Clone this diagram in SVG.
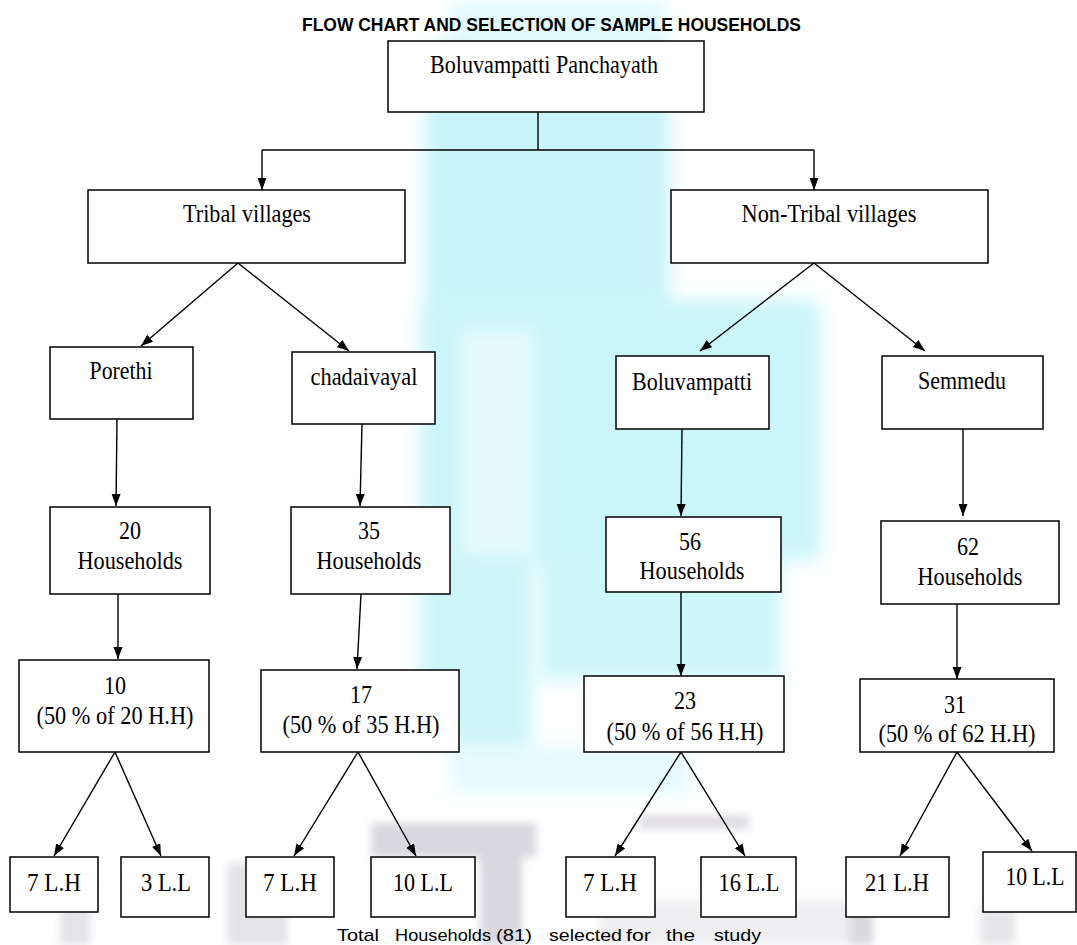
<svg xmlns="http://www.w3.org/2000/svg" width="1077" height="945" viewBox="0 0 1077 945">
<style>
.box{fill:#fff;stroke:#000;stroke-width:1.5}
.lbl{font-family:"Liberation Serif","Times New Roman",serif;font-size:24.5px;fill:#000;text-anchor:middle}
.title{font-family:"Liberation Sans",Arial,sans-serif;font-size:18.5px;font-weight:bold;fill:#000}
.foot{font-family:"Liberation Sans",Arial,sans-serif;font-size:17px;fill:#000}
.con{fill:none;stroke:#000;stroke-width:1.4}
</style>
<defs>
<marker id="ah" markerUnits="userSpaceOnUse" markerWidth="13" markerHeight="10" refX="12" refY="4.5" orient="auto">
<path d="M0,0 L12,4.5 L0,9 z" fill="#000"/>
</marker>
<filter id="blur" x="-20%" y="-20%" width="140%" height="140%"><feGaussianBlur stdDeviation="9"/></filter>
<filter id="blur2" x="-20%" y="-20%" width="140%" height="140%"><feGaussianBlur stdDeviation="4"/></filter>
</defs>
<rect width="1077" height="945" fill="#fff"/>
<g id="watermark">
<g filter="url(#blur)">
<rect x="450" y="0" width="215" height="50" fill="#e2fafc"/>
<rect x="425" y="45" width="245" height="260" fill="#c9f4f9"/>
<rect x="420" y="300" width="400" height="260" fill="#cbf6f9"/>
<rect x="460" y="330" width="75" height="240" fill="#e4fafc"/>
<rect x="420" y="555" width="112" height="190" fill="#cdf6f9"/>
<rect x="540" y="555" width="240" height="125" fill="#cdf7f9"/>
<rect x="450" y="745" width="240" height="50" fill="#e6fbfc"/>
</g>
<g filter="url(#blur2)" fill="#d9d8de">
<rect x="371" y="823" width="165" height="34"/>
<rect x="639" y="815" width="110" height="14" fill="#dedce2"/>
<rect x="227" y="863" width="60" height="82" fill="#e3e3e8"/>
<rect x="480" y="855" width="42" height="90"/>
<rect x="845" y="910" width="28" height="35"/>
<rect x="60" y="900" width="30" height="45" fill="#e3e3e8"/>
<rect x="980" y="905" width="35" height="40" fill="#e6e6ea"/>
<rect x="600" y="900" width="250" height="45" fill="#efeff2"/>
</g>
</g>
<text class="title" x="302" y="30.5" textLength="499" lengthAdjust="spacingAndGlyphs">FLOW CHART AND SELECTION OF SAMPLE HOUSEHOLDS</text>
<g id="connectors">
<polyline class="con" points="538,112 538,150"/>
<polyline class="con" points="262,150 814,150"/>
<line class="con" x1="262" y1="150" x2="262" y2="190" marker-end="url(#ah)"/>
<line class="con" x1="814" y1="150" x2="814" y2="190" marker-end="url(#ah)"/>
<line class="con" x1="238" y1="263" x2="141" y2="346" marker-end="url(#ah)"/>
<line class="con" x1="238" y1="263" x2="349" y2="351" marker-end="url(#ah)"/>
<line class="con" x1="814" y1="263" x2="700" y2="351" marker-end="url(#ah)"/>
<line class="con" x1="814" y1="263" x2="925" y2="351" marker-end="url(#ah)"/>
<line class="con" x1="117" y1="419" x2="116" y2="506" marker-end="url(#ah)"/>
<line class="con" x1="362" y1="424" x2="360" y2="506" marker-end="url(#ah)"/>
<line class="con" x1="682" y1="429" x2="681" y2="516" marker-end="url(#ah)"/>
<line class="con" x1="963" y1="429" x2="963" y2="516" marker-end="url(#ah)"/>
<line class="con" x1="118" y1="594" x2="118" y2="659" marker-end="url(#ah)"/>
<line class="con" x1="361" y1="594" x2="357" y2="669" marker-end="url(#ah)"/>
<line class="con" x1="681" y1="592" x2="681" y2="676" marker-end="url(#ah)"/>
<line class="con" x1="957" y1="604" x2="957" y2="679" marker-end="url(#ah)"/>
<line class="con" x1="115" y1="752" x2="54" y2="856" marker-end="url(#ah)"/>
<line class="con" x1="115" y1="752" x2="161" y2="856" marker-end="url(#ah)"/>
<line class="con" x1="358" y1="752" x2="294" y2="856" marker-end="url(#ah)"/>
<line class="con" x1="358" y1="752" x2="416" y2="856" marker-end="url(#ah)"/>
<line class="con" x1="681" y1="752" x2="615" y2="856" marker-end="url(#ah)"/>
<line class="con" x1="681" y1="752" x2="745" y2="856" marker-end="url(#ah)"/>
<line class="con" x1="957" y1="752" x2="900" y2="856" marker-end="url(#ah)"/>
<line class="con" x1="957" y1="752" x2="1032" y2="851" marker-end="url(#ah)"/>
</g>
<g id="n-panchayath"><rect class="box" x="388" y="41" width="316" height="71"/><text class="lbl" x="544" y="73" textLength="228" lengthAdjust="spacingAndGlyphs">Boluvampatti Panchayath</text></g>
<g id="n-tribal"><rect class="box" x="88" y="190" width="317" height="73"/><text class="lbl" x="247" y="222" textLength="128" lengthAdjust="spacingAndGlyphs">Tribal villages</text></g>
<g id="n-nontribal"><rect class="box" x="671" y="190" width="317" height="73"/><text class="lbl" x="829" y="222" textLength="175" lengthAdjust="spacingAndGlyphs">Non-Tribal villages</text></g>
<g id="n-porethi"><rect class="box" x="50" y="347" width="143" height="72"/><text class="lbl" x="121" y="379" textLength="63" lengthAdjust="spacingAndGlyphs">Porethi</text></g>
<g id="n-chadaivayal"><rect class="box" x="292" y="352" width="143" height="72"/><text class="lbl" x="364" y="385" textLength="107" lengthAdjust="spacingAndGlyphs">chadaivayal</text></g>
<g id="n-boluvampatti"><rect class="box" x="616" y="356" width="153" height="73"/><text class="lbl" x="692" y="390" textLength="120" lengthAdjust="spacingAndGlyphs">Boluvampatti</text></g>
<g id="n-semmedu"><rect class="box" x="882" y="356" width="161" height="73"/><text class="lbl" x="962" y="389" textLength="88" lengthAdjust="spacingAndGlyphs">Semmedu</text></g>
<g id="n-20hh"><rect class="box" x="50" y="507" width="160" height="87"/><text class="lbl" x="130" y="539" textLength="22" lengthAdjust="spacingAndGlyphs">20</text><text class="lbl" x="130" y="569" textLength="105" lengthAdjust="spacingAndGlyphs">Households</text></g>
<g id="n-35hh"><rect class="box" x="291" y="507" width="159" height="87"/><text class="lbl" x="369" y="539" textLength="22" lengthAdjust="spacingAndGlyphs">35</text><text class="lbl" x="369" y="569" textLength="105" lengthAdjust="spacingAndGlyphs">Households</text></g>
<g id="n-56hh"><rect class="box" x="606" y="517" width="175" height="75"/><text class="lbl" x="690" y="550" textLength="22" lengthAdjust="spacingAndGlyphs">56</text><text class="lbl" x="692" y="579" textLength="105" lengthAdjust="spacingAndGlyphs">Households</text></g>
<g id="n-62hh"><rect class="box" x="881" y="521" width="178" height="83"/><text class="lbl" x="968" y="555" textLength="22" lengthAdjust="spacingAndGlyphs">62</text><text class="lbl" x="970" y="585" textLength="105" lengthAdjust="spacingAndGlyphs">Households</text></g>
<g id="n-10"><rect class="box" x="19" y="660" width="190" height="92"/><text class="lbl" x="115" y="694" textLength="22" lengthAdjust="spacingAndGlyphs">10</text><text class="lbl" x="115" y="724" textLength="157" lengthAdjust="spacingAndGlyphs">(50 % of 20 H.H)</text></g>
<g id="n-17"><rect class="box" x="261" y="670" width="198" height="82"/><text class="lbl" x="361" y="703" textLength="22" lengthAdjust="spacingAndGlyphs">17</text><text class="lbl" x="361" y="733" textLength="157" lengthAdjust="spacingAndGlyphs">(50 % of 35 H.H)</text></g>
<g id="n-23"><rect class="box" x="584" y="676" width="200" height="76"/><text class="lbl" x="685" y="709" textLength="22" lengthAdjust="spacingAndGlyphs">23</text><text class="lbl" x="685" y="740" textLength="157" lengthAdjust="spacingAndGlyphs">(50 % of 56 H.H)</text></g>
<g id="n-31"><rect class="box" x="860" y="679" width="194" height="73"/><text class="lbl" x="955" y="713" textLength="22" lengthAdjust="spacingAndGlyphs">31</text><text class="lbl" x="957" y="742" textLength="157" lengthAdjust="spacingAndGlyphs">(50 % of 62 H.H)</text></g>
<g id="n-7lh-a"><rect class="box" x="10" y="857" width="88" height="55"/><text class="lbl" x="54" y="891" textLength="54" lengthAdjust="spacingAndGlyphs">7 L.H</text></g>
<g id="n-3ll"><rect class="box" x="121" y="857" width="88" height="60"/><text class="lbl" x="166" y="891" textLength="50" lengthAdjust="spacingAndGlyphs">3 L.L</text></g>
<g id="n-7lh-b"><rect class="box" x="246" y="857" width="88" height="60"/><text class="lbl" x="290" y="891" textLength="54" lengthAdjust="spacingAndGlyphs">7 L.H</text></g>
<g id="n-10ll-a"><rect class="box" x="371" y="857" width="104" height="60"/><text class="lbl" x="423" y="891" textLength="60" lengthAdjust="spacingAndGlyphs">10 L.L</text></g>
<g id="n-7lh-c"><rect class="box" x="566" y="857" width="89" height="60"/><text class="lbl" x="610" y="891" textLength="54" lengthAdjust="spacingAndGlyphs">7 L.H</text></g>
<g id="n-16ll"><rect class="box" x="701" y="857" width="95" height="60"/><text class="lbl" x="749" y="891" textLength="61" lengthAdjust="spacingAndGlyphs">16 L.L</text></g>
<g id="n-21lh"><rect class="box" x="846" y="857" width="103" height="60"/><text class="lbl" x="897" y="891" textLength="64" lengthAdjust="spacingAndGlyphs">21 L.H</text></g>
<g id="n-10ll-b"><rect class="box" x="983" y="852" width="93" height="60"/><text class="lbl" x="1035" y="885" textLength="59" lengthAdjust="spacingAndGlyphs">10 L.L</text></g>
<g id="footer" class="foot">
<text x="337" y="941" textLength="42" lengthAdjust="spacingAndGlyphs">Total</text>
<text x="395" y="941" textLength="96" lengthAdjust="spacingAndGlyphs">Households</text>
<text x="496" y="941" textLength="36" lengthAdjust="spacingAndGlyphs">(81)</text>
<text x="549" y="941" textLength="73" lengthAdjust="spacingAndGlyphs">selected</text>
<text x="626" y="941" textLength="25" lengthAdjust="spacingAndGlyphs">for</text>
<text x="666" y="941" textLength="29" lengthAdjust="spacingAndGlyphs">the</text>
<text x="714" y="941" textLength="47" lengthAdjust="spacingAndGlyphs">study</text>
</g>
</svg>
